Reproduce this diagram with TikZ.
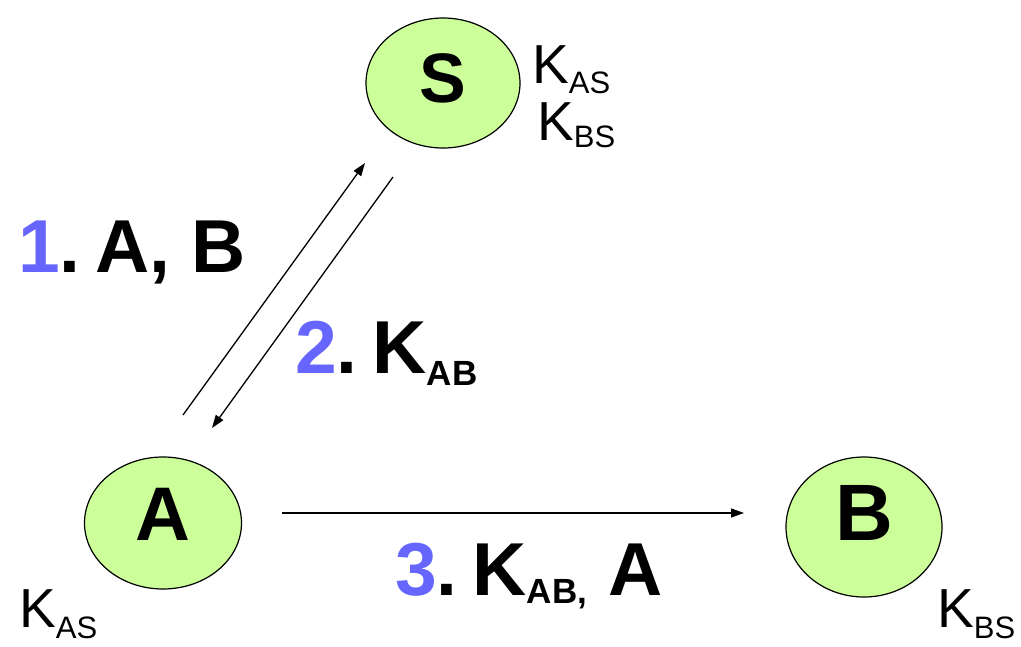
\documentclass[tikz,border=0pt]{standalone}
\usepackage{fontspec}
\setmainfont{Liberation Sans}
\usetikzlibrary{shapes.geometric,arrows.meta,calc}
\definecolor{nodefill}{RGB}{204,255,153}
\definecolor{stepblue}{RGB}{102,102,255}
% key name K with a lowered subscript: #1 = drop, #2 = owners
\newcommand\keyof[2]{K\raisebox{-#1}{\fontsize{31}{31}\selectfont #2}}
% session key K_AB in bold, #1 = drop, #2 = trailing text in the subscript
\newcommand\sesskey[2]{K\raisebox{-#1}{\fontsize{35}{35}\selectfont\bfseries AB#2}}
% narrow gap after a step number
\newcommand\stepgap{\hspace{15pt}}
\begin{document}
\begin{tikzpicture}[x=1pt,y=-1pt,
  party/.style={ellipse,draw=black,line width=1.2pt,fill=nodefill,inner sep=0pt},
  msg/.style={anchor=base west,inner sep=0pt,font=\fontsize{75}{75}\selectfont\bfseries},
  keys/.style={anchor=base west,inner sep=0pt,font=\fontsize{55}{55}\selectfont},
  flow/.style={line width=1.3pt,-{Triangle[length=13pt,width=9pt]}}]
\useasboundingbox (0,0) rectangle (1021,646);

% the three parties
\node[party,minimum width=154pt,minimum height=130pt,text depth=10pt,
      font=\fontsize{70}{70}\selectfont\bfseries] (S) at (443,83) {S};
\node[party,minimum width=157pt,minimum height=132pt,text depth=17pt,
      font=\fontsize{76}{76}\selectfont\bfseries] (A) at (163,523) {A};
\node[party,minimum width=156pt,minimum height=140pt,text depth=29pt,
      font=\fontsize{80}{80}\selectfont\bfseries] (B) at (864,527) {B};

% keys held by each party
\node[keys] (kS1) at (532,83) {\keyof{10pt}{AS}};
\node[keys] (kS2) at (537,140) {\keyof{7pt}{BS}};
\node[keys] (kA) at (19,627) {\keyof{11pt}{AS}};
\node[keys] (kB) at (937,627) {\keyof{11pt}{BS}};

% arrow end points around the parties
\coordinate (A-up) at ($(A)+(20,-108)$);
\coordinate (A-in) at ($(A)+(49,-95)$);
\coordinate (A-right) at ($(A)+(119,-10)$);
\coordinate (S-in) at ($(S)+(-78,80)$);
\coordinate (S-down) at ($(S)+(-50,94)$);
\coordinate (B-in) at ($(B)+(-120,-14)$);

% protocol messages
\draw[flow] (A-up) -- (S-in);
\draw[flow] (S-down) -- (A-in);
\draw[flow] (A-right) -- (B-in);

\node[msg] (m1) at (18,272) {\textcolor{stepblue}{1}.\stepgap A, B};
\node[msg] (m2) at (295,373) {\textcolor{stepblue}{2}.\stepgap\sesskey{12pt}{}};
\node[msg] (m3) at (395,595) {\textcolor{stepblue}{3}.\stepgap\sesskey{8pt}{,} A};
\end{tikzpicture}
\end{document}
